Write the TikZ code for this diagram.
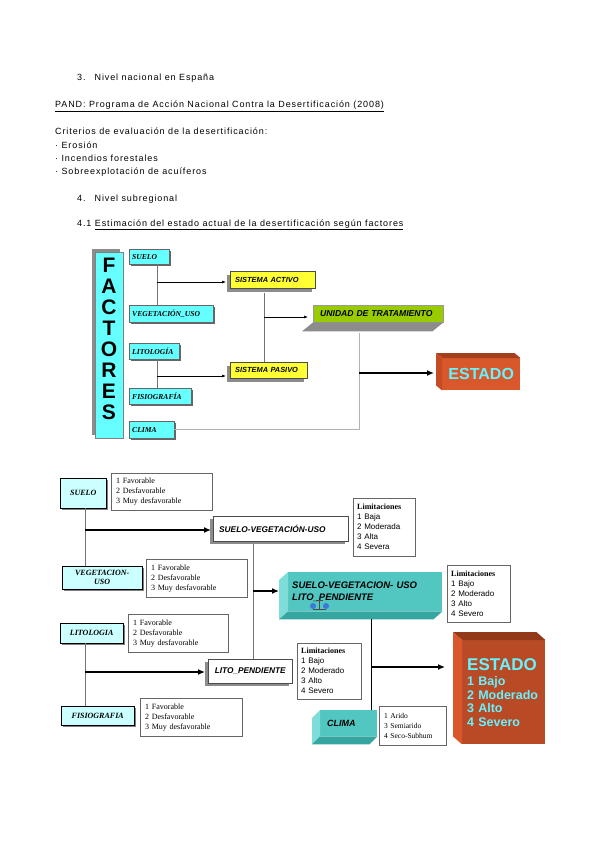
\documentclass[tikz,border=0pt]{standalone}
\usepackage{fontspec}
\setmainfont{Liberation Sans}
\newfontfamily\tnr{Liberation Serif}
\newfontfamily\headfont[LetterSpace=10]{Liberation Sans}
\usetikzlibrary{arrows.meta,shadows}
\definecolor{aquabox}{HTML}{66FFFF}
\definecolor{paleaqua}{HTML}{CCFFFF}
\definecolor{yellowbox}{HTML}{FFFF33}
\definecolor{greenbox}{HTML}{99CC00}
\definecolor{estfront}{HTML}{D9582B}
\definecolor{esttop}{HTML}{A33F1C}
\definecolor{estside}{HTML}{C44C22}
\definecolor{estcyan}{HTML}{66F2FF}
\definecolor{tealfront}{HTML}{52C7C1}
\definecolor{teallight}{HTML}{7EDDD8}
\definecolor{tealdark}{HTML}{36A6A1}
\definecolor{dotblue}{HTML}{3C78D8}

\begin{document}
\begin{tikzpicture}[x=1pt,y=-1pt,
  headtxt/.style={font=\headfont\fontsize{9}{11}\selectfont, inner sep=0pt, anchor=base west},
  linegray/.style={black!55, line width=0.7pt},
  thinarrow/.style={-{Latex[length=4pt,width=3pt]}, line width=0.6pt},
  thickarrow/.style={-{Latex[length=7pt,width=6pt]}, line width=1.3pt},
  factorbox/.style={draw=black!60, fill=aquabox, anchor=north west, inner xsep=3pt, inner ysep=0pt,
    align=left, font=\tnr\bfseries\itshape\fontsize{7.6}{8}\selectfont,
    drop shadow={shadow xshift=2pt, shadow yshift=-2pt, fill=black!60, opacity=1}},
  sysbox/.style={draw=black!70, fill=yellowbox, anchor=north west, inner xsep=5pt, inner ysep=0pt,
    align=left, font=\bfseries\itshape\fontsize{7.4}{8}\selectfont,
    drop shadow={shadow xshift=-3pt, shadow yshift=-4pt, fill=black!45, opacity=1}},
  critbox/.style={draw=black, fill=paleaqua, anchor=north west, align=center, inner sep=0pt,
    font=\tnr\bfseries\itshape\fontsize{8}{9}\selectfont,
    drop shadow={shadow xshift=2pt, shadow yshift=-2pt, fill=black!50, opacity=1}},
  infobox/.style={draw=black!60, fill=white, anchor=north west, align=left, inner xsep=5pt,
    inner ysep=3pt, font=\tnr\fontsize{8}{10}\selectfont},
  limbox/.style={draw=black!60, fill=white, anchor=north west, align=left, inner xsep=4pt,
    inner ysep=3pt, font=\fontsize{8}{10}\selectfont},
  procbox/.style={draw=black!70, fill=white, anchor=north west, inner xsep=6pt, inner ysep=0pt,
    font=\bfseries\itshape\fontsize{8.3}{9}\selectfont,
    drop shadow={shadow xshift=-3pt, shadow yshift=-3pt, fill=black!45, opacity=1}}]
  \useasboundingbox[fill=white] (0,0) rectangle (599,848);

  % text above the diagrams
  \node[headtxt] (nac) at (77,81) {3.\hspace{9pt}Nivel nacional en España};
  \node[headtxt] (pand) at (55,108) {\underline{PAND: Programa de Acción Nacional Contra la Desertificación (2008)}};
  \node[headtxt] (crit) at (55,135) {Criterios de evaluación de la desertificación:};
  \node[headtxt] (crit1) at (55,148) {· Erosión};
  \node[headtxt] (crit2) at (55,161) {· Incendios forestales};
  \node[headtxt] (crit3) at (55,174) {· Sobreexplotación de acuíferos};
  \node[headtxt] (sub) at (77,201) {4.\hspace{9pt}Nivel subregional};
  \node[headtxt] (est) at (77,226) {4.1 \underline{Estimación del estado actual de la desertificación según factores}};

  % first diagram
  \node[draw=black!50, fill=aquabox, minimum width=28pt, minimum height=186pt, anchor=north west,
    drop shadow={shadow xshift=-3pt, shadow yshift=3pt, fill=black!45, opacity=1}] (fac) at (95,252) {};
  \foreach \l [count=\i from 0] in {F,A,C,T,O,R,E,S}
    \node[font=\bfseries\fontsize{21}{21}\selectfont] (fac\i) at (109,{265+21*\i}) {\l};

  \node[factorbox, text width=34pt, minimum height=15pt] (su) at (129,249) {SUELO};
  \node[factorbox, text width=78pt, minimum height=17pt] (ve) at (129,305) {VEGETACIÓN\_USO};
  \node[factorbox, text width=44pt, minimum height=16pt] (li) at (129,343) {LITOLOGÍA};
  \node[factorbox, text width=56pt, minimum height=16pt] (fi) at (129,388) {FISIOGRAFÍA};
  \node[factorbox, text width=39pt, minimum height=17pt] (cl) at (129,421) {CLIMA};

  \node[sysbox, text width=75pt, minimum height=17pt] (sa) at (230,271) {SISTEMA ACTIVO};
  \node[sysbox, text width=67pt, minimum height=16pt] (sp) at (230,362) {SISTEMA PASIVO};

  \node[draw=black!40, fill=greenbox, anchor=north west, inner xsep=7pt, inner ysep=0pt,
    text width=116pt, minimum height=17pt, align=left,
    font=\bfseries\itshape\fontsize{8.6}{9}\selectfont] (un) at (313,305) {UNIDAD DE TRATAMIENTO};
  \fill[black!45] (un.south west) -- (un.south east) -- ++(-11,9) -- ([shift={(-11,9)}]un.south west) -- cycle;

  \node[fill=estfront, anchor=north west, minimum width=78pt, minimum height=32pt, inner sep=0pt,
    text=estcyan, font=\bfseries\fontsize{16}{16}\selectfont] (es) at (442,358) {ESTADO};
  \fill[esttop] (es.north west) -- (es.north east) -- ++(-6,-5) -- ([shift={(-6,-5)}]es.north west) -- cycle;
  \fill[estside] (es.north west) -- (es.south west) -- ++(-6,-5) -- ([shift={(-6,-5)}]es.north west) -- cycle;

  \coordinate (j1) at (157,282);
  \coordinate (j2) at (157,376);
  \coordinate (j3) at (264,317);
  \coordinate (j4) at (359,373);
  \draw[linegray] (j1 |- su.south) -- (j1 |- ve.north);
  \draw[thinarrow] (j1) -- ([xshift=-4pt]j1 -| sa.west);
  \draw[linegray] (j2 |- li.south) -- (j2 |- fi.north);
  \draw[thinarrow] (j2) -- ([xshift=-4pt]j2 -| sp.west);
  \draw[linegray] ([yshift=-5pt]j3 |- sa.south) -- (j3 |- sp.north);
  \draw[thinarrow] (j3) -- ([xshift=-5pt]j3 -| un.west);
  \draw[black!30, line width=0.8pt] ([yshift=-11pt]j4 |- un.south) -- (j4 |- cl.east) -- (cl.east);
  \draw[thickarrow] (j4) -- ([xshift=-8pt]j4 -| es.west);

  % second diagram
  \node[critbox, minimum width=46pt, minimum height=30pt] (su2) at (60,478) {SUELO};
  \node[critbox, minimum width=80pt, minimum height=23pt] (ve2) at (62,566) {VEGETACION-\\USO};
  \node[critbox, minimum width=63pt, minimum height=20pt] (li2) at (60,623) {LITOLOGIA};
  \node[critbox, minimum width=73pt, minimum height=19pt] (fi2) at (61,706) {FISIOGRAFIA};

  \node[infobox, text width=91pt, minimum height=37pt] (inf1) at (111,473) {1 Favorable\\2 Desfavorable\\3 Muy desfavorable};
  \node[infobox, text width=91pt, minimum height=38pt] (inf2) at (146,559) {1 Favorable\\2 Desfavorable\\3 Muy desfavorable};
  \node[infobox, text width=90pt, minimum height=38pt] (inf3) at (128,614) {1 Favorable\\2 Desfavorable\\3 Muy desfavorable};
  \node[infobox, text width=92pt, minimum height=38pt] (inf4) at (140,698) {1 Favorable\\2 Desfavorable\\3 Muy desfavorable};
  \node[infobox, text width=57pt, minimum height=39pt, font=\tnr\fontsize{7.5}{10}\selectfont] (inf5) at (379,706) {1 Arido\\3 Semiarido\\4 Seco-Subhum};

  \node[limbox, text width=54pt, minimum height=58pt] (lim1) at (353,498) {{\tnr\bfseries Limitaciones}\\1 Baja\\2 Moderada\\3 Alta\\4 Severa};
  \node[limbox, text width=55pt, minimum height=57pt] (lim2) at (447,565) {{\tnr\bfseries Limitaciones}\\1 Bajo\\2 Moderado\\3 Alto\\4 Severo};
  \node[limbox, text width=56pt, minimum height=56pt] (lim3) at (297,643) {{\tnr\bfseries Limitaciones}\\1 Bajo\\2 Moderado\\3 Alto\\4 Severo};

  \node[procbox, text width=123pt, minimum height=25pt, align=left] (svu) at (213,516) {SUELO-VEGETACIÓN-USO};
  \node[procbox, text width=72pt, minimum height=24pt, align=center] (lp) at (208,659) {LITO\_PENDIENTE};

  \node[fill=tealfront, anchor=north west, minimum height=39pt, text width=146pt, inner xsep=4pt,
    inner ysep=0pt, align=left, font=\bfseries\itshape\fontsize{9.5}{11.5}\selectfont] (svlp) at (288,572)
    {SUELO-VEGETACION- USO\\LITO\_PENDIENTE};
  \fill[teallight] (svlp.north west) -- (svlp.south west) -- ++(-9,8) -- ([shift={(-9,8)}]svlp.north west) -- cycle;
  \fill[tealdark] (svlp.south west) -- (svlp.south east) -- ++(-9,8) -- ([shift={(-9,8)}]svlp.south west) -- cycle;
  \fill[dotblue] (313,606) circle (3pt) (326,606) circle (3pt);
  \draw[black!70, line width=0.5pt] (316,600) -- (323,600) (319.5,600) -- (319.5,609) (313,609) -- (326,609);

  \node[fill=tealfront, anchor=north west, minimum height=26pt, text width=43pt, inner xsep=7pt,
    inner ysep=0pt, align=left, font=\bfseries\itshape\fontsize{9}{10}\selectfont] (cl2) at (320,710) {CLIMA};
  \fill[teallight] (cl2.north west) -- (cl2.south west) -- ++(-8,8) -- ([shift={(-8,8)}]cl2.north west) -- cycle;
  \fill[tealdark] (cl2.south west) -- (cl2.south east) -- ++(-8,8) -- ([shift={(-8,8)}]cl2.south west) -- cycle;

  \node[fill=estfront!85!black, anchor=north west, minimum height=104pt, text width=73pt, inner xsep=5pt,
    inner ysep=0pt, align=left, text=estcyan, font=\bfseries\fontsize{12.5}{13.5}\selectfont] (es2) at (462,640)
    {{\fontsize{17}{17}\selectfont ESTADO}\\[2pt]1 Bajo\\2 Moderado\\3 Alto\\4 Severo};
  \fill[esttop!90!black] (es2.north west) -- (es2.north east) -- ++(-9,-8) -- ([shift={(-9,-8)}]es2.north west) -- cycle;
  \fill[estfront] (es2.north west) -- (es2.south west) -- ++(-9,-8) -- ([shift={(-9,-8)}]es2.north west) -- cycle;

  \coordinate (j5) at (85,530);
  \coordinate (j6) at (253,591);
  \coordinate (j7) at (371,667);
  \coordinate (j8) at (85,672);
  \draw[linegray] (j5 |- su2.south) -- (j5 |- ve2.north);
  \draw[thickarrow] (j5) -- ([xshift=-2pt]j5 -| svu.west);
  \draw[linegray] ([yshift=-3pt]j6 |- svu.south) -- (j6 |- lp.north);
  \draw[thickarrow] (j6) -- ([xshift=-9pt]j6 -| svlp.west);
  \draw[linegray] (j8 |- li2.south) -- (j8 |- fi2.north);
  \draw[thickarrow] (j8) -- ([xshift=-3pt]j8 -| lp.west);
  \draw[black, line width=1pt] ([yshift=-8pt]j7 |- svlp.south) -- (j7 |- cl2.north);
  \draw[thickarrow] (j7) -- ([xshift=-17pt]j7 -| es2.west);
\end{tikzpicture}
\end{document}
